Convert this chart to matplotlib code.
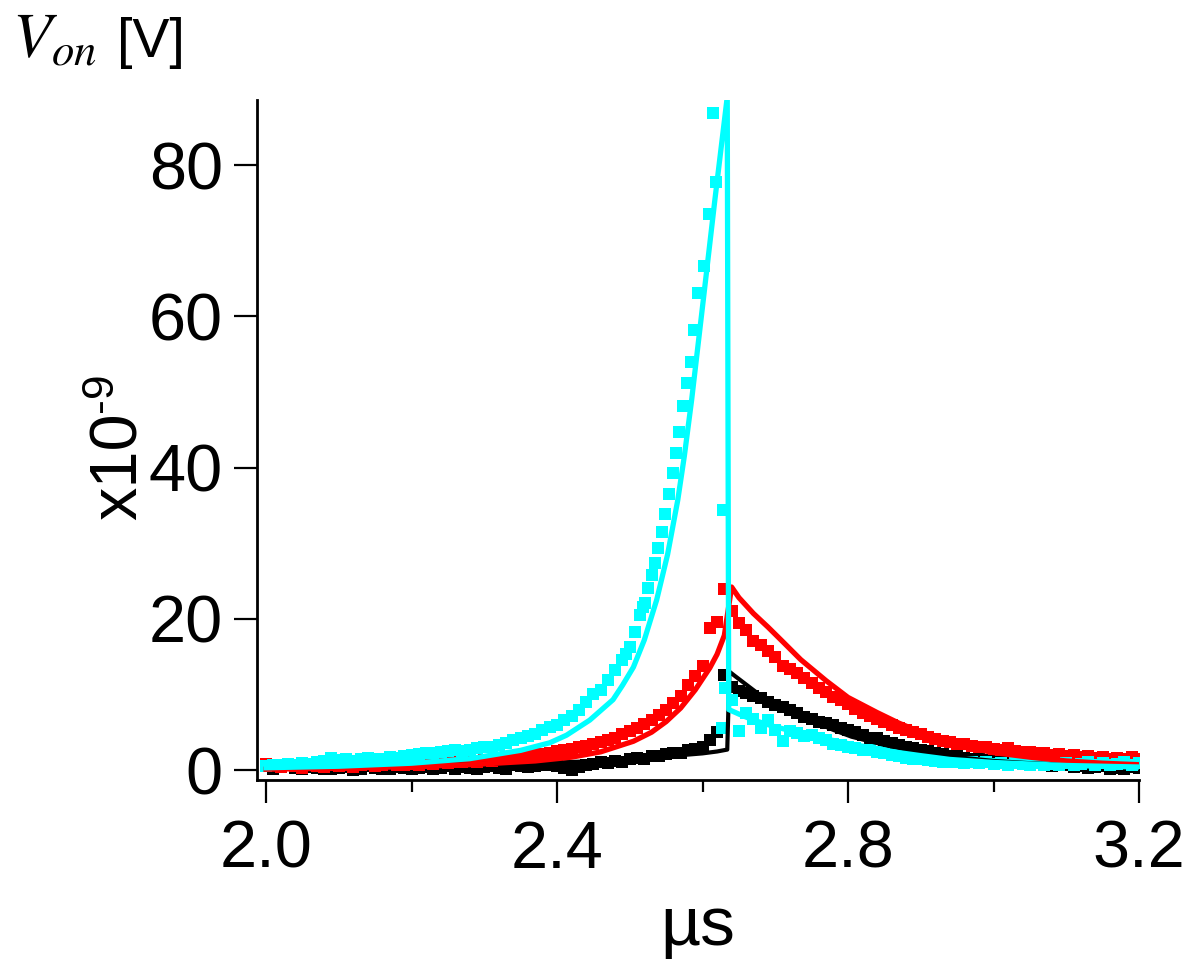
import numpy as np
import matplotlib
matplotlib.use("Agg")
import matplotlib.pyplot as plt
from matplotlib.ticker import MultipleLocator

plt.rcParams['font.family'] = ['Liberation Sans', 'DejaVu Sans']
plt.rcParams['mathtext.fontset'] = 'stix'

# temps d'échantillonnage (µs), pas de 0.01
temps = np.round(np.arange(2.00, 3.2001, 0.01), 2)

mesure_noir = [
    0.5, 0.2, 0.6, 0.8, 0.3, 0.1, 0.4, 0.3, 0.2, 0.1,
    0.3, 0.4, 0.0, 0.2, 0.5, 0.3, 0.1, 0.2, 0.4, 0.3,
    0.2, 0.3, 0.4, 0.1, 0.3, 0.5, 0.2, 0.4, 0.3, 0.2,
    0.4, 0.5, 0.3, 0.2, 0.6, 0.5, 0.4, 0.5, 0.7, 0.6,
    0.5, 0.3, 0.0, 0.4, 0.7, 0.8, 1.0, 0.9, 1.2, 1.1,
    1.4, 1.6, 1.5, 1.8, 1.9, 2.1, 2.2, 2.3, 2.6, 2.8,
    3.1, 4.0, 5.0, 12.6, 11.0, 10.5, 10.2, 9.8, 9.5, 9.0,
    8.6, 8.3, 7.9, 7.6, 7.0, 6.8, 6.4, 6.2, 5.9, 5.5,
    5.3, 5.0, 4.6, 4.2, 4.3, 3.9, 3.6, 3.3, 3.0, 2.9,
    2.7, 2.5, 2.2, 2.1, 1.9, 1.8, 1.6, 1.5, 1.4, 1.3,
    1.2, 1.0, 1.1, 0.9, 0.8, 0.7, 0.9, 0.6, 0.5, 0.7,
    0.6, 0.4, 0.5, 0.3, 0.4, 0.5, 0.2, 0.3, 0.1, 0.4,
    0.3]

mesure_rouge = [
    0.8, 0.6, 0.4, 0.7, 0.5, 0.3, 0.6, 0.5, 0.4, 0.6,
    0.5, 0.7, 0.4, 0.6, 0.8, 0.5, 0.6, 0.9, 0.7, 0.6,
    0.8, 0.7, 0.9, 0.8, 1.0, 0.9, 1.1, 1.0, 1.2, 1.1,
    1.3, 1.2, 1.5, 1.4, 1.7, 1.6, 1.8, 2.0, 2.1, 2.3,
    2.5, 2.6, 2.8, 3.0, 3.2, 3.4, 3.7, 4.0, 4.3, 4.8,
    5.2, 5.6, 6.1, 6.6, 7.3, 8.0, 8.8, 9.8, 11.3, 12.4,
    13.8, 18.8, 19.6, 24.0, 21.0, 19.4, 18.5, 17.0, 16.5, 15.8,
    15.0, 13.8, 13.4, 12.8, 12.2, 11.5, 10.8, 10.3, 9.7, 9.3,
    8.7, 8.1, 7.6, 7.1, 6.8, 6.3, 5.9, 5.6, 5.3, 5.0,
    4.8, 4.4, 4.1, 3.9, 3.7, 3.5, 3.4, 3.2, 3.0, 3.1,
    2.8, 2.7, 2.9, 2.5, 2.4, 2.4, 2.2, 2.3, 2.0, 2.1,
    1.9, 2.0, 1.7, 1.8, 1.6, 1.7, 1.5, 1.6, 1.4, 1.7,
    1.5]

# série cyan : grille 0.01 avant 2.50 et après 2.63, points relevés un à un autour du pic
cyan_debut = [
    0.5, 0.7, 0.6, 0.8, 0.7, 0.9, 0.8, 1.0, 1.2, 1.6,
    1.3, 1.4, 1.2, 1.5, 1.6, 1.4, 1.5, 1.7, 1.6, 1.8,
    2.0, 2.1, 2.3, 2.2, 2.4, 2.5, 2.6, 2.5, 2.7, 2.9,
    3.0, 3.1, 3.3, 3.6, 4.0, 4.2, 4.5, 4.8, 5.3, 5.7,
    6.0, 6.6, 7.2, 7.9, 9.0, 10.0, 10.6, 11.9, 13.2, 14.5]
cyan_pic_x = [2.495, 2.500, 2.507, 2.514, 2.518, 2.521, 2.525, 2.530, 2.535, 2.539,
              2.545, 2.549, 2.554, 2.559, 2.563, 2.568, 2.573, 2.579, 2.584, 2.588,
              2.594, 2.602, 2.609, 2.614, 2.619, 2.627, 2.628, 2.631]
cyan_pic_y = [15.3, 16.3, 18.2, 20.5, 21.5, 22.1, 24.1, 25.8, 27.4, 29.4,
              31.5, 33.9, 36.5, 39.3, 41.9, 44.7, 48.1, 51.2, 54.0, 58.2,
              63.1, 66.6, 73.5, 86.9, 77.8, 5.6, 34.4, 10.8]
cyan_fin = [
    9.3, 5.2, 7.6, 6.8, 5.5, 6.6,
    5.3, 3.8, 5.2, 4.9, 4.5, 4.6, 4.2, 4.0, 3.5, 3.3,
    3.1, 2.9, 2.7, 2.6, 2.4, 2.2, 2.0, 1.8, 1.6, 1.5,
    1.4, 1.3, 1.2, 1.1, 1.0, 1.0, 0.9, 1.1, 0.9, 1.0,
    0.8, 0.9, 0.7, 0.9, 0.8, 0.7, 0.9, 0.6, 0.8, 0.7,
    0.9, 0.6, 0.8, 1.0, 0.7, 0.9, 0.6, 0.8, 1.0, 0.7,
    0.9]

# courbes d'ajustement
fit_noir_x = [2.00, 2.10, 2.20, 2.30, 2.40, 2.46, 2.50, 2.55, 2.60, 2.62, 2.634,
              2.637, 2.645, 2.66, 2.675, 2.69, 2.71, 2.73, 2.755, 2.78, 2.805, 2.83,
              2.855, 2.88, 2.91, 2.94, 2.97, 3.00, 3.05, 3.10, 3.15, 3.20]
fit_noir_y = [0.2, 0.35, 0.55, 0.8, 1.0, 1.2, 1.45, 1.8, 2.2, 2.45, 2.7,
              13.0, 12.4, 11.3, 10.2, 9.2, 8.3, 7.4, 6.3, 5.3, 4.4, 3.8,
              3.2, 2.7, 2.2, 1.8, 1.5, 1.2, 0.9, 0.7, 0.55, 0.4]

fit_rouge_x = [2.00, 2.10, 2.20, 2.28, 2.37, 2.42, 2.46, 2.505, 2.53, 2.55, 2.57, 2.59,
               2.61, 2.62, 2.63, 2.635, 2.64, 2.65, 2.67, 2.69, 2.71, 2.735, 2.77,
               2.80, 2.84, 2.87, 2.90, 2.94, 3.00, 3.05, 3.10, 3.15, 3.20]
fit_rouge_y = [0.1, 0.25, 0.45, 0.7, 1.2, 1.7, 2.4, 3.8, 5.0, 6.4, 8.2, 10.6,
               13.5, 15.3, 17.8, 21.0, 24.2, 22.8, 20.7, 18.9, 17.0, 14.6, 11.8,
               9.6, 7.6, 6.2, 5.0, 3.5, 2.3, 1.7, 1.2, 0.9, 0.7]

fit_cyan_x = [2.00, 2.10, 2.20, 2.28, 2.35, 2.39, 2.413, 2.445, 2.477, 2.49, 2.505, 2.52,
              2.537, 2.552, 2.566, 2.575, 2.585, 2.601, 2.617, 2.634, 2.636, 2.65, 2.67,
              2.70, 2.735, 2.77, 2.80, 2.84, 2.87, 2.90, 2.94, 3.00, 3.05, 3.10, 3.15, 3.20]
fit_cyan_y = [0.3, 0.5, 0.9, 1.5, 2.6, 3.6, 4.6, 6.6, 9.3, 11.2, 13.6, 17.2,
              22.5, 28.5, 35.7, 41.5, 48.9, 62.1, 75.4, 89.0, 8.0, 7.4, 6.6,
              5.7, 4.9, 4.1, 3.5, 2.8, 2.3, 1.9, 1.4, 1.0, 0.8, 0.6, 0.5, 0.4]

couleurs = ['#000000', '#ff0000', '#00ffff']

temps_cyan = np.concatenate([temps[temps < 2.495], cyan_pic_x, temps[temps > 2.635]])
mesure_cyan = np.concatenate([cyan_debut, cyan_pic_y, cyan_fin])

fig = plt.figure(figsize=(11.86, 9.65), dpi=100)
ax = fig.add_axes([257 / 1186, 185 / 965, 882 / 1186, 680 / 965])

# points de mesure
series = [(temps, mesure_noir), (temps, mesure_rouge), (temps_cyan, mesure_cyan)]
for (tx, ty), c in zip(series, couleurs):
    ax.plot(tx, ty, linestyle='none', marker='s', markersize=8,
            markeredgewidth=0, color=c)

# ajustements
for fx, fy, c, lw in zip([fit_noir_x, fit_rouge_x, fit_cyan_x],
                         [fit_noir_y, fit_rouge_y, fit_cyan_y], couleurs, [3, 3.8, 3.8]):
    ax.plot(fx, fy, color=c, linewidth=lw)

ax.set_xlim(1.9876, 3.2)
ax.set_ylim(-1.32, 88.6)

ax.spines['top'].set_visible(False)
ax.spines['right'].set_visible(False)
for s in ['left', 'bottom']:
    ax.spines[s].set_linewidth(2)

ax.set_xticks([2.0, 2.4, 2.8, 3.2])
ax.set_xticklabels(['2.0', '2.4', '2.8', '3.2'])
ax.xaxis.set_minor_locator(MultipleLocator(0.2))
ax.set_yticks([0, 20, 40, 60, 80])
ax.tick_params(axis='both', which='major', direction='out', length=16.5, width=1.6,
               labelsize=48)
ax.tick_params(axis='x', which='minor', direction='out', length=8.5, width=1.6)
ax.tick_params(axis='x', which='major', pad=12)
ax.tick_params(axis='y', which='major', pad=8)

ax.set_xlabel('µs', fontsize=50, labelpad=10)

# étiquette d'échelle et unité
fig.text(120 / 1186, 1 - 466 / 965, 'x10', rotation=90,
         ha='center', va='center', fontsize=48)
fig.text(100 / 1186, 1 - 392 / 965, '-9', rotation=90,
         ha='center', va='center', fontsize=32)
fig.text(12 / 1186, 1 - 57 / 965, r'$V_{on}$', fontsize=46, va='baseline')
fig.text(117 / 1186, 1 - 57 / 965, '[V]', fontsize=40, va='baseline')

fig.savefig('out.png', dpi=100)
